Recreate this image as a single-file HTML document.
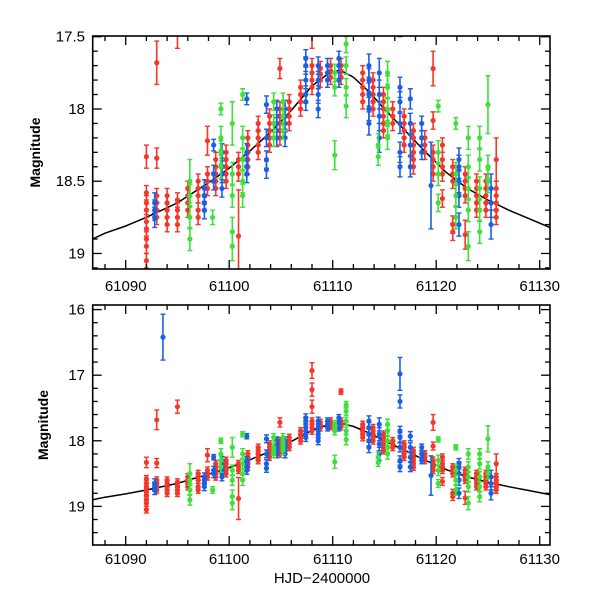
<!DOCTYPE html>
<html><head><meta charset="utf-8"><style>
body{margin:0;background:#fff}
svg{display:block;font-family:"Liberation Sans",sans-serif}
</style></head><body>
<svg id="chart" width="600" height="600" xmlns="http://www.w3.org/2000/svg"></svg>
<script>
// ---- data ----
const xTicksMajor = [61090, 61100, 61110, 61120, 61130];
const topYTicks = [17.5, 18, 18.5, 19];
const botYTicks = [16, 17, 18, 19];
const curveT = [61086.8, 61088, 61090, 61092, 61095, 61098, 61100, 61102, 61104, 61106, 61108, 61109.5, 61110.7, 61112, 61113.5, 61115, 61117, 61119, 61121, 61123, 61125, 61127, 61129, 61131];
const curveM = [18.9, 18.86, 18.81, 18.75, 18.65, 18.51, 18.41, 18.29, 18.16, 18.01, 17.84, 17.76, 17.73, 17.78, 17.88, 18.0, 18.15, 18.3, 18.44, 18.55, 18.63, 18.7, 18.76, 18.82];
const redPts = [
[61092,18.33,.08],[61092,18.58,.05],[61092,18.65,.05],[61092,18.7,.05],[61092,18.78,.05],[61092,18.83,.05],[61092,18.9,.05],[61092,18.95,.05],[61092,19.05,.05],
[61093,17.68,.15],[61093,18.34,.07],[61093,18.6,.05],[61093,18.65,.05],[61093,18.7,.05],[61093,18.75,.05],
[61094,18.6,.05],[61094,18.65,.05],[61094,18.7,.05],[61094,18.75,.05],[61094,18.8,.05],
[61095,17.48,.1],[61095,18.63,.05],[61095,18.7,.05],[61095,18.75,.05],[61095,18.8,.05],
[61096,18.55,.05],[61096,18.6,.05],[61096,18.65,.05],[61096,18.7,.05],
[61097,18.5,.05],[61097,18.55,.05],[61097,18.6,.05],[61097,18.7,.05],[61097,18.75,.05],
[61097.9,18.22,.1],[61097.9,18.45,.05],[61097.9,18.5,.05],[61097.9,18.55,.05],
[61098.7,18.35,.05],[61098.7,18.4,.05],[61098.7,18.45,.05],[61098.7,18.5,.05],[61098.7,18.55,.05],
[61099.7,18.3,.05],[61099.7,18.35,.05],[61099.7,18.4,.05],[61099.7,18.45,.05],[61099.7,18.5,.05],
[61100.9,18.35,.05],[61100.9,18.4,.05],[61100.9,18.45,.05],[61100.9,18.88,.32],
[61101.8,18.2,.05],[61101.8,18.25,.05],[61101.8,18.3,.05],[61101.8,18.35,.05],[61101.8,18.4,.05],
[61102.8,18.1,.05],[61102.8,18.15,.05],[61102.8,18.2,.05],[61102.8,18.25,.05],[61102.8,18.3,.05],
[61103.9,18.05,.05],[61103.9,18.1,.05],[61103.9,18.15,.05],[61103.9,18.2,.05],[61103.9,18.25,.05],
[61104.9,17.72,.07],[61104.9,18.0,.05],[61104.9,18.05,.05],[61104.9,18.1,.05],[61104.9,18.15,.05],[61104.9,18.2,.05],
[61105.8,17.95,.05],[61105.8,18.0,.05],[61105.8,18.05,.05],[61105.8,18.1,.05],
[61106.9,17.85,.05],[61106.9,17.9,.05],[61106.9,17.95,.05],[61106.9,18.0,.05],
[61108,16.93,.12],[61108,17.22,.1],[61108,17.48,.1],[61108,17.7,.05],[61108,17.75,.05],[61108,17.8,.05],[61108,17.85,.05],
[61108.8,17.72,.05],[61108.8,17.76,.05],[61108.8,17.8,.05],
[61109.8,17.7,.05],[61109.8,17.74,.05],[61109.8,17.78,.05],
[61110.8,17.25,.04],[61110.8,17.7,.05],[61110.8,17.74,.05],[61110.8,17.78,.05],
[61112.9,17.75,.05],[61112.9,17.8,.05],[61112.9,17.85,.05],[61112.9,17.9,.05],[61112.9,17.95,.05],
[61113.9,17.8,.05],[61113.9,17.85,.05],[61113.9,17.9,.05],[61113.9,17.95,.05],[61113.9,18.0,.05],
[61114.9,17.9,.05],[61114.9,17.95,.05],[61114.9,18.0,.05],[61114.9,18.05,.05],[61114.9,18.1,.05],[61114.9,18.15,.05],
[61115.8,18.0,.05],[61115.8,18.05,.05],[61115.8,18.1,.05],
[61116.9,18.05,.05],[61116.9,18.1,.05],[61116.9,18.15,.05],[61116.9,18.2,.05],[61116.9,18.25,.05],
[61117.8,18.15,.05],[61117.8,18.2,.05],[61117.8,18.25,.05],[61117.8,18.3,.05],[61117.8,18.35,.05],[61117.8,18.4,.05],
[61118.9,18.2,.05],[61118.9,18.25,.05],[61118.9,18.3,.05],
[61119.7,17.72,.12],[61119.7,18.08,.06],[61119.7,18.3,.05],[61119.7,18.35,.05],[61119.7,18.4,.05],[61119.7,18.45,.05],
[61120.6,18.25,.05],[61120.6,18.35,.05],[61120.6,18.4,.05],[61120.6,18.45,.05],[61120.6,18.62,.06],
[61121.6,18.4,.05],[61121.6,18.45,.05],[61121.6,18.5,.05],[61121.6,18.8,.06],[61121.6,18.85,.06],
[61122.8,18.45,.05],[61122.8,18.5,.05],[61122.8,18.55,.05],[61122.8,18.6,.05],[61122.8,18.87,.1],
[61123.9,18.5,.05],[61123.9,18.55,.05],[61123.9,18.6,.05],[61123.9,18.65,.05],[61123.9,18.7,.05],
[61124.8,18.5,.05],[61124.8,18.55,.05],[61124.8,18.6,.05],[61124.8,18.65,.05],[61124.8,18.7,.05],
[61125.8,18.35,.15],[61125.8,18.55,.05],[61125.8,18.6,.05],[61125.8,18.65,.05],[61125.8,18.7,.05],[61125.8,18.75,.05]
];
const bluePts = [
[61092.8,18.65,.07],[61092.8,18.7,.07],[61092.8,18.75,.07],
[61093.6,16.42,.35],
[61097.6,18.55,.06],[61097.6,18.6,.06],[61097.6,18.65,.06],[61097.6,18.7,.06],
[61098.5,18.25,.04],[61098.5,18.45,.06],[61098.5,18.5,.06],
[61099.3,18.3,.06],[61099.3,18.4,.06],[61099.3,18.45,.06],[61099.3,18.55,.06],
[61101.7,17.93,.04],[61101.7,18.3,.06],[61101.7,18.4,.06],[61101.7,18.45,.06],
[61103.6,17.97,.06],[61103.6,18.2,.06],[61103.6,18.35,.06],[61103.6,18.42,.06],
[61104.6,18.0,.06],[61104.6,18.1,.06],[61104.6,18.2,.06],
[61105.4,18.0,.06],[61105.4,18.1,.06],[61105.4,18.2,.06],
[61107.4,17.65,.06],[61107.4,17.7,.06],[61107.4,17.8,.06],[61107.4,17.9,.06],[61107.4,17.95,.06],
[61108.6,17.7,.06],[61108.6,17.8,.06],[61108.6,17.9,.06],[61108.6,18.0,.06],
[61109.5,17.7,.05],[61109.5,17.75,.05],[61109.5,17.8,.05],
[61110.6,17.65,.05],[61110.6,17.7,.05],[61110.6,17.8,.05],
[61113.5,17.7,.08],[61113.5,17.8,.08],[61113.5,17.9,.08],[61113.5,18.0,.08],[61113.5,18.1,.08],
[61114.5,17.75,.1],[61114.5,17.9,.1],[61114.5,18.05,.1],[61114.5,18.2,.1],
[61116.5,16.98,.25],[61116.5,17.4,.1],[61116.5,17.85,.07],[61116.5,17.95,.07],[61116.5,18.1,.07],[61116.5,18.3,.07],[61116.5,18.4,.07],
[61117.5,17.93,.07],[61117.5,18.1,.07],[61117.5,18.25,.07],[61117.5,18.4,.07],
[61118.6,18.1,.05],[61118.6,18.2,.05],[61118.6,18.3,.05],
[61119.5,18.53,.3],
[61122.2,18.35,.08],[61122.2,18.4,.08],[61122.2,18.5,.08],[61122.2,18.6,.08],[61122.2,18.8,.08],
[61125.3,18.55,.1],[61125.3,18.65,.1],[61125.3,18.8,.1]
];
const greenPts = [
[61096.2,18.5,.15],[61096.2,18.6,.08],[61096.2,18.75,.08],[61096.2,18.9,.08],
[61098.4,18.75,.05],
[61099.2,18.0,.04],[61099.2,18.2,.08],[61099.2,18.3,.08],[61099.2,18.4,.08],
[61100.3,18.1,.15],[61100.3,18.45,.08],[61100.3,18.6,.08],[61100.3,18.85,.1],[61100.3,18.95,.1],
[61101.3,17.9,.04],[61101.3,18.2,.08],[61101.3,18.35,.08],[61101.3,18.5,.08],[61101.3,18.6,.08],
[61104.3,17.95,.06],[61104.3,18.1,.06],[61104.3,18.2,.06],
[61105.2,17.95,.06],[61105.2,18.05,.06],[61105.2,18.15,.06],
[61110.2,18.32,.1],[61110.2,17.75,.06],[61110.2,17.85,.06],
[61111.3,17.45,.05],[61111.3,17.55,.06],[61111.3,17.7,.06],[61111.3,17.85,.06],[61111.3,17.98,.08],
[61114.4,18.25,.08],[61114.4,18.33,.06],
[61115.3,17.75,.08],[61115.3,17.85,.08],[61115.3,18.0,.08],[61115.3,18.1,.08],[61115.3,18.2,.08],
[61120.2,17.98,.04],[61120.2,18.3,.08],[61120.2,18.45,.08],[61120.2,18.65,.06],
[61121.9,18.1,.04],[61121.9,18.45,.08],[61121.9,18.6,.08],[61121.9,18.75,.08],
[61123.1,18.2,.08],[61123.1,18.4,.08],[61123.1,18.55,.08],[61123.1,18.7,.08],[61123.1,18.95,.1],
[61124.2,18.2,.08],[61124.2,18.35,.08],[61124.2,18.55,.08],[61124.2,18.7,.08],[61124.2,18.85,.08],
[61125.0,17.97,.2],[61125.0,18.4,.08],[61125.0,18.5,.08]
];
// ---- drawing ----
const NS='http://www.w3.org/2000/svg';
const svg=document.getElementById('chart');
function mk(tag,attrs,parent){const e=document.createElementNS(NS,tag);for(const k in attrs)e.setAttribute(k,attrs[k]);(parent||svg).appendChild(e);return e;}
const X0=92.7,X1=550,PXD=10.35;
function xs(d){return 125.7+(d-61090)*PXD;}
const panels=[
 {name:'top',y0:36,y1:269,m0:17.495,pxm:144.5,ticks:topYTicks,minor:0.1,mmin:17.5,mmax:19.1,labY:291,ylabX:40},
 {name:'bottom',y0:305,y1:545,m0:15.93,pxm:65.6,ticks:botYTicks,minor:0.2,mmin:16,mmax:19.5,labY:564,ylabX:48}
];
const series=[['red',redPts,'#f5372a'],['blue',bluePts,'#1a5fe8'],['green',greenPts,'#3ee03a']];
panels.forEach((p,pi)=>{
 const ys=m=>p.y0+(m-p.m0)*p.pxm;
 const g=mk('g',{});
 
 
 const cid='clip'+pi;
 const cp=mk('clipPath',{id:cid},g);mk('rect',{x:X0,y:p.y0,width:X1-X0,height:p.y1-p.y0},cp);
 const plot=mk('g',{'clip-path':'url(#'+cid+')'},g);
 let d='';curveT.forEach((t,i)=>{d+=(i?'L':'M')+xs(t).toFixed(1)+','+ys(curveM[i]).toFixed(1);});
 const c=mk('path',{d:d,fill:'none',stroke:'#000','stroke-width':1.5},plot);
 
 
 series.forEach(([nm,pts,col])=>{
  const sg=mk('g',{stroke:col,fill:col},plot);
  
  
  pts.forEach(([t,m,e])=>{
   const x=xs(t),ya=ys(m-e),yb=ys(m+e);
   mk('line',{x1:x,x2:x,y1:ya,y2:yb,'stroke-width':1.6},sg);
   mk('line',{x1:x-2.5,x2:x+2.5,y1:ya,y2:ya,'stroke-width':1.4},sg);
   mk('line',{x1:x-2.5,x2:x+2.5,y1:yb,y2:yb,'stroke-width':1.4},sg);
   mk('circle',{cx:x,cy:ys(m),r:2.6,stroke:'none'},sg);
  });
 });
 const fr=mk('rect',{x:X0,y:p.y0,width:X1-X0,height:p.y1-p.y0,fill:'none',stroke:'#000','stroke-width':1.6},g);
 
 
 for(let dd=61088;dd<=61130;dd+=2){
  const x=xs(dd),maj=dd%10===0,L=maj?9:5;
  mk('line',{x1:x,x2:x,y1:p.y1,y2:p.y1-L,stroke:'#000','stroke-width':1.3},g);
  mk('line',{x1:x,x2:x,y1:p.y0,y2:p.y0+L,stroke:'#000','stroke-width':1.3},g);
 }
 xTicksMajor.forEach(v=>{
  const t=mk('text',{x:xs(v),y:p.labY,'text-anchor':'middle','font-size':15},g);
  t.textContent=v;
  
  
 });
 for(let k=0;;k++){
  const m=Math.round((p.mmin+k*p.minor)*100)/100;if(m>p.mmax+1e-6)break;
  const y=ys(m);if(y<p.y0||y>p.y1)continue;
  const maj=Math.abs(m*2-Math.round(m*2))<1e-6,L=maj?9:5;
  mk('line',{x1:X0,x2:X0+L,y1:y,y2:y,stroke:'#000','stroke-width':1.3},g);
  mk('line',{x1:X1,x2:X1-L,y1:y,y2:y,stroke:'#000','stroke-width':1.3},g);
 }
 p.ticks.forEach(v=>{
  const t=mk('text',{x:85,y:ys(v)+5,'text-anchor':'end','font-size':15},g);
  t.textContent=v;
  
  
 });
 const yl=mk('text',{x:p.ylabX,y:(p.y0+p.y1)/2,'text-anchor':'middle','font-size':14,'font-weight':'bold',transform:'rotate(-90 '+p.ylabX+' '+(p.y0+p.y1)/2+')'},g);
 yl.textContent='Magnitude';
 
 
});
const xl=mk('text',{x:322,y:583,'text-anchor':'middle','font-size':15});
xl.textContent='HJD\u22122400000';


</script>
</body></html>
